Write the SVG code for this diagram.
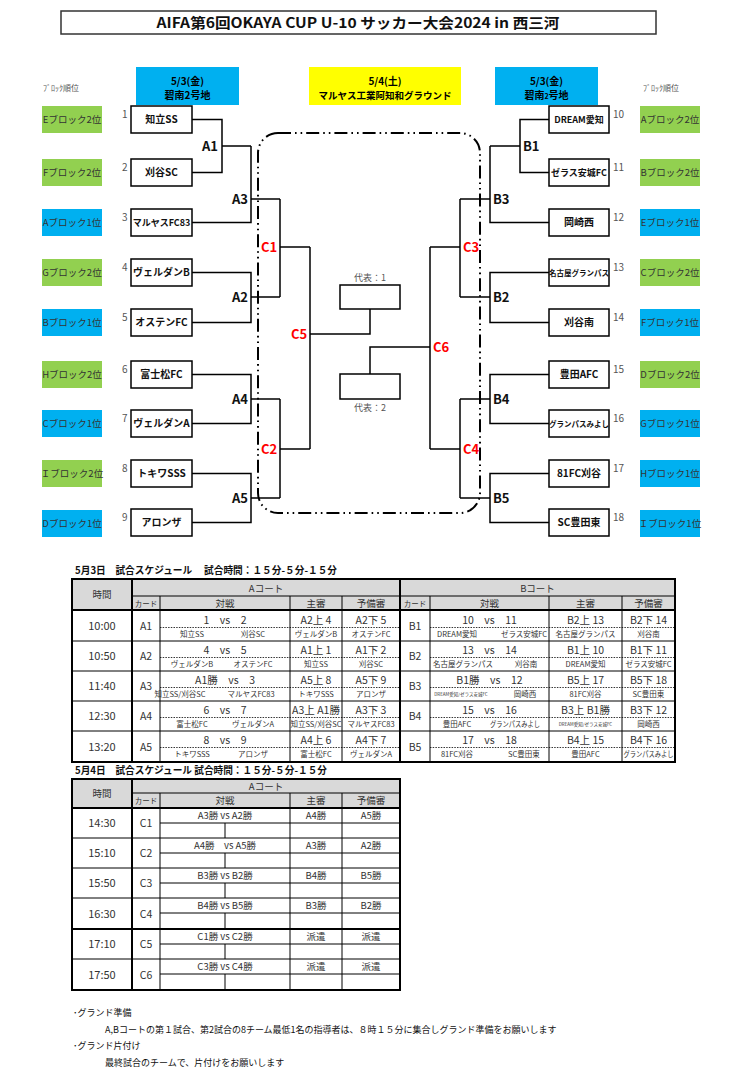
<svg xmlns="http://www.w3.org/2000/svg" width="741" height="1077" viewBox="0 0 741 1077">
<style>
text{font-family:"Noto Sans CJK JP","Noto Sans",sans-serif;}
.title{font-size:14px;font-weight:bold;text-anchor:middle;fill:#111;}
.hd{font-size:10px;font-weight:bold;text-anchor:middle;fill:#000;}
.team{font-size:10px;font-weight:bold;text-anchor:middle;fill:#111;}
.teams{font-size:8px;font-weight:bold;text-anchor:middle;fill:#111;}
.blk{font-size:9.5px;text-anchor:middle;fill:#333;}
.num{font-size:10px;fill:#555;}
.lab{font-size:13px;font-weight:bold;fill:#111;}
.red{fill:#ff0000;}
.end{text-anchor:end;}
.gr{fill:#92D050;}
.bl{fill:#00B0F0;}
.ln{stroke:#000;stroke-width:1.5;fill:none;}
.box{fill:#fff;stroke:#000;stroke-width:1.5;}
.dd{fill:none;stroke:#000;stroke-width:2;stroke-dasharray:13 4 1.6 4 1.6 4;}
.sm{font-size:8px;fill:#555;}
.tt{font-size:10px;font-weight:bold;fill:#111;}
.tc{text-anchor:middle;fill:#333;}
.f11{font-size:11px;}
.f10{font-size:10.5px;}
.f9{font-size:9.5px;}
.f8{font-size:7.5px;}
.f4{font-size:4.5px;}
.tl{stroke:#000;stroke-width:1;fill:none;}
.tk{stroke:#000;stroke-width:2;fill:none;}
.dot{stroke:#000;stroke-width:0.8;stroke-dasharray:1.5 1.2;fill:none;}
.note{font-size:9px;fill:#111;}
</style>

<g id="title">
<rect x="61" y="11" width="595" height="23" fill="#fff" stroke="#333" stroke-width="1.5"/>
<text class="title" x="358" y="28" textLength="403" lengthAdjust="spacingAndGlyphs">AIFA第6回OKAYA CUP U-10 サッカー大会2024 in 西三河</text>
</g>

<g id="headers">
<rect x="136" y="67" width="103" height="38" class="bl"/>
<text class="hd" x="187.5" y="85">5/3(金)</text>
<text class="hd" x="187.5" y="99">碧南2号地</text>
<rect x="309" y="67" width="152" height="38" fill="#FFFF00"/>
<text class="hd" x="385" y="85">5/4(土)</text>
<text class="hd" x="385" y="99" style="font-size:9.5px">マルヤス工業阿知和グラウンド</text>
<rect x="495" y="67" width="103" height="38" class="bl"/>
<text class="hd" x="546.5" y="85">5/3(金)</text>
<text class="hd" x="546.5" y="99">碧南<tspan style="font-size:7px">2</tspan>号地</text>
<text class="sm" x="43" y="91">ﾌﾞﾛｯｸ順位</text>
<text class="sm" x="643" y="91">ﾌﾞﾛｯｸ順位</text>
</g>

<g id="blocks-left">
<rect x="42" y="106" width="60" height="27" class="gr"/><text class="blk" x="72" y="123">Eブロック2位</text>
<rect x="42" y="159" width="60" height="27" class="gr"/><text class="blk" x="72" y="176">Fブロック2位</text>
<rect x="42" y="209" width="60" height="27" class="bl"/><text class="blk" x="72" y="226">Aブロック1位</text>
<rect x="42" y="259" width="60" height="27" class="gr"/><text class="blk" x="72" y="276">Gブロック2位</text>
<rect x="42" y="309" width="60" height="27" class="bl"/><text class="blk" x="72" y="326">Bブロック1位</text>
<rect x="42" y="361" width="60" height="27" class="gr"/><text class="blk" x="72" y="378">Hブロック2位</text>
<rect x="42" y="410" width="60" height="27" class="bl"/><text class="blk" x="72" y="427">Cブロック1位</text>
<rect x="42" y="460" width="60" height="27" class="gr"/><text class="blk" x="72" y="477">Ｉブロック2位</text>
<rect x="42" y="510" width="60" height="27" class="bl"/><text class="blk" x="72" y="527">Dブロック1位</text>
</g>

<g id="blocks-right">
<rect x="640" y="106" width="60" height="27" class="gr"/><text class="blk" x="670" y="123">Aブロック2位</text>
<rect x="640" y="159" width="60" height="27" class="gr"/><text class="blk" x="670" y="176">Bブロック2位</text>
<rect x="640" y="209" width="60" height="27" class="bl"/><text class="blk" x="670" y="226">Eブロック1位</text>
<rect x="640" y="259" width="60" height="27" class="gr"/><text class="blk" x="670" y="276">Cブロック2位</text>
<rect x="640" y="309" width="60" height="27" class="bl"/><text class="blk" x="670" y="326">Fブロック1位</text>
<rect x="640" y="361" width="60" height="27" class="gr"/><text class="blk" x="670" y="378">Dブロック2位</text>
<rect x="640" y="410" width="60" height="27" class="bl"/><text class="blk" x="670" y="427">Gブロック1位</text>
<rect x="640" y="460" width="60" height="27" class="bl"/><text class="blk" x="670" y="477">Hブロック1位</text>
<rect x="640" y="510" width="60" height="27" class="bl"/><text class="blk" x="670" y="527">Ｉブロック1位</text>
</g>

<g id="frame">
<rect x="258" y="133" width="222" height="380" rx="20" ry="20" class="dd"/>
</g>

<g id="connectors" class="ln">
<path d="M192,119.5 H222 V172.5 H192 M222,146 H251"/>
<path d="M251,146 V222.5 H192 M251,199 H280"/>
<path d="M192,272.5 H251 V322.5 H192 M251,297 H280"/>
<path d="M280,199 V297 M280,247 H310"/>
<path d="M192,374.5 H251 V423.5 H192 M251,399 H280"/>
<path d="M192,473.5 H251 V522.5 H192 M251,498 H280"/>
<path d="M280,399 V498 M280,449 H310"/>
<path d="M310,247 V449 M310,334 H370 V309"/>
<path d="M370,374 V347 H430 M430,247 V449"/>
<path d="M430,247 H460 M460,199 V297"/>
<path d="M460,199 H490 M490,146 V222.5 H549"/>
<path d="M490,146 H520 M549,119.5 H520 V172.5 H549"/>
<path d="M460,297 H490 M549,272.5 H490 V322.5 H549"/>
<path d="M430,449 H460 M460,399 V498"/>
<path d="M460,399 H490 M549,374.5 H490 V423.5 H549"/>
<path d="M460,498 H490 M549,473.5 H490 V522.5 H549"/>
</g>

<g id="teams-left">
<g id="t1"><rect class="box" x="131" y="106" width="61" height="27"/><text class="team" x="161.5" y="123">知立SS</text><text class="num" x="122" y="118">1</text></g>
<g id="t2"><rect class="box" x="131" y="159" width="61" height="27"/><text class="team" x="161.5" y="176">刈谷SC</text><text class="num" x="122" y="171">2</text></g>
<g id="t3"><rect class="box" x="131" y="209" width="61" height="27"/><text class="team" x="161.5" y="226" style="font-size:9px">マルヤスFC83</text><text class="num" x="122" y="221">3</text></g>
<g id="t4"><rect class="box" x="131" y="259" width="61" height="27"/><text class="team" x="161.5" y="276">ヴェルダンB</text><text class="num" x="122" y="271">4</text></g>
<g id="t5"><rect class="box" x="131" y="309" width="61" height="27"/><text class="team" x="161.5" y="326">オステンFC</text><text class="num" x="122" y="321">5</text></g>
<g id="t6"><rect class="box" x="131" y="361" width="61" height="27"/><text class="team" x="161.5" y="378">富士松FC</text><text class="num" x="122" y="373">6</text></g>
<g id="t7"><rect class="box" x="131" y="410" width="61" height="27"/><text class="team" x="161.5" y="427">ヴェルダンA</text><text class="num" x="122" y="422">7</text></g>
<g id="t8"><rect class="box" x="131" y="460" width="61" height="27"/><text class="team" x="161.5" y="477">トキワSSS</text><text class="num" x="122" y="472">8</text></g>
<g id="t9"><rect class="box" x="131" y="509" width="61" height="27"/><text class="team" x="161.5" y="526">アロンザ</text><text class="num" x="122" y="521">9</text></g>
</g>

<g id="teams-right">
<g id="t10"><rect class="box" x="549" y="106" width="60" height="27"/><text class="team" x="579" y="123" style="font-size:9px">DREAM愛知</text><text class="num" x="613" y="118">10</text></g>
<g id="t11"><rect class="box" x="549" y="159" width="60" height="27"/><text class="team" x="579" y="176" style="font-size:9px">ゼラス安城FC</text><text class="num" x="613" y="171">11</text></g>
<g id="t12"><rect class="box" x="549" y="209" width="60" height="27"/><text class="team" x="579" y="226">岡崎西</text><text class="num" x="613" y="221">12</text></g>
<g id="t13"><rect class="box" x="549" y="259" width="60" height="27"/><text class="teams" x="579" y="275.5" style="font-size:7.5px">名古屋グランパス</text><text class="num" x="613" y="271">13</text></g>
<g id="t14"><rect class="box" x="549" y="309" width="60" height="27"/><text class="team" x="579" y="326">刈谷南</text><text class="num" x="613" y="321">14</text></g>
<g id="t15"><rect class="box" x="549" y="361" width="60" height="27"/><text class="team" x="579" y="378">豊田AFC</text><text class="num" x="613" y="373">15</text></g>
<g id="t16"><rect class="box" x="549" y="410" width="60" height="27"/><text class="teams" x="579" y="426.5" style="font-size:7.5px">グランパスみよし</text><text class="num" x="613" y="422">16</text></g>
<g id="t17"><rect class="box" x="549" y="460" width="60" height="27"/><text class="team" x="579" y="477">81FC刈谷</text><text class="num" x="613" y="472">17</text></g>
<g id="t18"><rect class="box" x="549" y="509" width="60" height="27"/><text class="team" x="579" y="526">SC豊田東</text><text class="num" x="613" y="521">18</text></g>
</g>

<g id="reps">
<rect class="box" x="340" y="285" width="60" height="24"/>
<text class="sm" x="370" y="281" text-anchor="middle" style="font-size:9px">代表：1</text>
<rect class="box" x="340" y="374" width="60" height="25"/>
<text class="sm" x="370" y="411" text-anchor="middle" style="font-size:9px">代表：2</text>
</g>

<g id="match-labels">
<text class="lab end" x="218" y="151">A1</text>
<text class="lab end" x="248" y="204">A3</text>
<text class="lab end" x="248" y="302">A2</text>
<text class="lab end" x="248" y="404">A4</text>
<text class="lab end" x="248" y="503">A5</text>
<text class="lab red" x="261" y="252">C1</text>
<text class="lab red" x="291" y="339">C5</text>
<text class="lab red" x="261" y="454">C2</text>
<text class="lab red" x="463" y="252">C3</text>
<text class="lab red" x="433" y="352">C6</text>
<text class="lab red" x="463" y="454">C4</text>
<text class="lab" x="523" y="151">B1</text>
<text class="lab" x="493" y="204">B3</text>
<text class="lab" x="493" y="302">B2</text>
<text class="lab" x="493" y="404">B4</text>
<text class="lab" x="493" y="503">B5</text>
</g>

<g id="table1">
<text class="tt" x="75" y="574" textLength="262" lengthAdjust="spacingAndGlyphs">5月3日　試合スケジュール　 試合時間：１５分-５分-１５分</text>
<rect x="72" y="579" width="603" height="31" fill="#D9D9D9"/>
<path class="tl" d="M132,596 H675 M72,641 H675 M72,671 H675 M72,701 H675 M72,731 H675"/>
<path class="tl" d="M160,596 V762 M290,596 V762 M342,596 V762 M430,596 V762 M549,596 V762 M622,596 V762"/>
<path class="dot" d="M160,627.5 H400 M430,627.5 H675 M160,657.5 H400 M430,657.5 H675 M160,687.5 H400 M430,687.5 H675 M160,717.5 H400 M430,717.5 H675 M160,747.5 H400 M430,747.5 H675"/>
<path class="tk" d="M72,610 H675 M132,579 V762 M400,579 V762"/>
<rect class="tk" x="72" y="579" width="603" height="183"/>
<g class="tc">
<text class="f9" x="102" y="598">時間</text>
<text class="f9" x="266" y="592">Aコート</text>
<text class="f9" x="537.5" y="592">Bコート</text>
<text class="f8" x="146" y="607">カード</text>
<text class="f9" x="225" y="607">対戦</text>
<text class="f9" x="316" y="607">主審</text>
<text class="f9" x="371" y="607">予備審</text>
<text class="f8" x="415" y="607">カード</text>
<text class="f9" x="489.5" y="607">対戦</text>
<text class="f9" x="585.5" y="607">主審</text>
<text class="f9" x="648.5" y="607">予備審</text>

<text class="f11" x="102" y="630">10:00</text>
<text class="f11" x="102" y="660">10:50</text>
<text class="f11" x="102" y="690">11:40</text>
<text class="f11" x="102" y="720">12:30</text>
<text class="f11" x="102" y="751">13:20</text>
<text class="f10" x="146" y="630">A1</text>
<text class="f10" x="146" y="660">A2</text>
<text class="f10" x="146" y="690">A3</text>
<text class="f10" x="146" y="720">A4</text>
<text class="f10" x="146" y="751">A5</text>
<text class="f10" x="415" y="630">B1</text>
<text class="f10" x="415" y="660">B2</text>
<text class="f10" x="415" y="690">B3</text>
<text class="f10" x="415" y="720">B4</text>
<text class="f10" x="415" y="751">B5</text>

<text class="f10" x="225" y="624">1　vs　2</text>
<text class="f8" x="192" y="637">知立SS</text>
<text class="f8" x="253" y="637">刈谷SC</text>
<text class="f10" x="316" y="624">A2上 4</text>
<text class="f8" x="316" y="637">ヴェルダンB</text>
<text class="f10" x="371" y="624">A2下 5</text>
<text class="f8" x="371" y="637">オステンFC</text>
<text class="f10" x="489.5" y="624">10　vs　11</text>
<text class="f8" x="457" y="637">DREAM愛知</text>
<text class="f8" x="524" y="637">ゼラス安城FC</text>
<text class="f10" x="585.5" y="624">B2上 13</text>
<text class="f8" x="585.5" y="637">名古屋グランパス</text>
<text class="f10" x="648.5" y="624">B2下 14</text>
<text class="f8" x="648.5" y="637">刈谷南</text>

<text class="f10" x="225" y="654">4　vs　5</text>
<text class="f8" x="192" y="667">ヴェルダンB</text>
<text class="f8" x="253" y="667">オステンFC</text>
<text class="f10" x="316" y="654">A1上 1</text>
<text class="f8" x="316" y="667">知立SS</text>
<text class="f10" x="371" y="654">A1下 2</text>
<text class="f8" x="371" y="667">刈谷SC</text>
<text class="f10" x="489.5" y="654">13　vs　14</text>
<text class="f8" x="463" y="667">名古屋グランパス</text>
<text class="f8" x="526" y="667">刈谷南</text>
<text class="f10" x="585.5" y="654">B1上 10</text>
<text class="f8" x="585.5" y="667">DREAM愛知</text>
<text class="f10" x="648.5" y="654">B1下 11</text>
<text class="f8" x="648.5" y="667">ゼラス安城FC</text>

<text class="f10" x="225" y="684">A1勝　vs　3</text>
<text class="f8" x="180" y="697">知立SS/刈谷SC</text>
<text class="f8" x="251" y="697">マルヤスFC83</text>
<text class="f10" x="316" y="684">A5上 8</text>
<text class="f8" x="316" y="697">トキワSSS</text>
<text class="f10" x="371" y="684">A5下 9</text>
<text class="f8" x="371" y="697">アロンザ</text>
<text class="f10" x="489.5" y="684">B1勝　vs　12</text>
<text class="f4" x="461" y="696">DREAM愛知/ゼラス安城FC</text>
<text class="f8" x="525" y="697">岡崎西</text>
<text class="f10" x="585.5" y="684">B5上 17</text>
<text class="f8" x="585.5" y="697">81FC刈谷</text>
<text class="f10" x="648.5" y="684">B5下 18</text>
<text class="f8" x="648.5" y="697">SC豊田東</text>

<text class="f10" x="225" y="714">6　vs　7</text>
<text class="f8" x="192" y="727">富士松FC</text>
<text class="f8" x="253" y="727">ヴェルダンA</text>
<text class="f10" x="316" y="714">A3上 A1勝</text>
<text class="f8" x="316" y="727">知立SS/刈谷SC</text>
<text class="f10" x="371" y="714">A3下 3</text>
<text class="f8" x="371" y="727">マルヤスFC83</text>
<text class="f10" x="489.5" y="714">15　vs　16</text>
<text class="f8" x="457" y="727">豊田AFC</text>
<text class="f8" x="515" y="727" textLength="50" lengthAdjust="spacingAndGlyphs">グランパスみよし</text>
<text class="f10" x="585.5" y="714">B3上 B1勝</text>
<text class="f4" x="585.5" y="726">DREAM愛知/ゼラス安城FC</text>
<text class="f10" x="648.5" y="714">B3下 12</text>
<text class="f8" x="648.5" y="727">岡崎西</text>

<text class="f10" x="225" y="744">8　vs　9</text>
<text class="f8" x="192" y="757">トキワSSS</text>
<text class="f8" x="253" y="757">アロンザ</text>
<text class="f10" x="316" y="744">A4上 6</text>
<text class="f8" x="316" y="757">富士松FC</text>
<text class="f10" x="371" y="744">A4下 7</text>
<text class="f8" x="371" y="757">ヴェルダンA</text>
<text class="f10" x="489.5" y="744">17　vs　18</text>
<text class="f8" x="457" y="757">81FC刈谷</text>
<text class="f8" x="524" y="757">SC豊田東</text>
<text class="f10" x="585.5" y="744">B4上 15</text>
<text class="f8" x="585.5" y="757">豊田AFC</text>
<text class="f10" x="648.5" y="744">B4下 16</text>
<text class="f8" x="648.5" y="757" textLength="50" lengthAdjust="spacingAndGlyphs">グランパスみよし</text>
</g>
</g>

<g id="table2">
<text class="tt" x="75" y="774" textLength="252" lengthAdjust="spacingAndGlyphs">5月4日　試合スケジュール 試合時間：１５分-５分-１５分</text>
<rect x="72" y="779" width="328" height="29" fill="#D9D9D9"/>
<path class="tl" d="M132,793 H400 M72,838 H400 M72,868 H400 M72,898 H400 M72,959 H400"/>
<path class="tl" d="M160,823 H400 M160,853 H400 M160,883 H400 M160,913 H400 M160,944 H400 M160,974 H400"/>
<path class="tl" d="M160,793 V990 M290,793 V990 M342,793 V990"/>
<path class="tl" d="M225,823 V838 M225,853 V868 M225,883 V898 M225,913 V929 M225,944 V959 M225,974 V990"/>
<path class="tk" d="M72,808 H400 M72,929 H400 M132,779 V990"/>
<rect class="tk" x="72" y="779" width="328" height="211"/>
<g class="tc">
<text class="f9" x="102" y="797">時間</text>
<text class="f9" x="266" y="790">Aコート</text>
<text class="f8" x="146" y="804">カード</text>
<text class="f9" x="225" y="804">対戦</text>
<text class="f9" x="316" y="804">主審</text>
<text class="f9" x="371" y="804">予備審</text>

<text class="f11" x="102" y="827">14:30</text>
<text class="f11" x="102" y="857">15:10</text>
<text class="f11" x="102" y="887">15:50</text>
<text class="f11" x="102" y="918">16:30</text>
<text class="f11" x="102" y="948">17:10</text>
<text class="f11" x="102" y="979">17:50</text>
<text class="f10" x="146" y="827">C1</text>
<text class="f10" x="146" y="857">C2</text>
<text class="f10" x="146" y="887">C3</text>
<text class="f10" x="146" y="918">C4</text>
<text class="f10" x="146" y="948">C5</text>
<text class="f10" x="146" y="979">C6</text>

<text class="f9" x="225" y="819">A3勝 vs A2勝</text>
<text class="f9" x="316" y="819">A4勝</text>
<text class="f9" x="371" y="819">A5勝</text>
<text class="f9" x="225" y="849">A4勝　vs A5勝</text>
<text class="f9" x="316" y="849">A3勝</text>
<text class="f9" x="371" y="849">A2勝</text>
<text class="f9" x="225" y="879">B3勝 vs B2勝</text>
<text class="f9" x="316" y="879">B4勝</text>
<text class="f9" x="371" y="879">B5勝</text>
<text class="f9" x="225" y="909">B4勝 vs B5勝</text>
<text class="f9" x="316" y="909">B3勝</text>
<text class="f9" x="371" y="909">B2勝</text>
<text class="f9" x="225" y="940">C1勝 vs C2勝</text>
<text class="f9" x="316" y="940">派遣</text>
<text class="f9" x="371" y="940">派遣</text>
<text class="f9" x="225" y="970">C3勝 vs C4勝</text>
<text class="f9" x="316" y="970">派遣</text>
<text class="f9" x="371" y="970">派遣</text>
</g>
</g>

<g id="notes">
<text class="note" x="73" y="1016">･グランド準備</text>
<text class="note" x="105" y="1033">A,Bコートの第１試合、第2試合の8チーム最低1名の指導者は、８時１５分に集合しグランド準備をお願いします</text>
<text class="note" x="73" y="1049">･グランド片付け</text>
<text class="note" x="105" y="1066">最終試合のチームで、片付けをお願いします</text>
</g>
</svg>
